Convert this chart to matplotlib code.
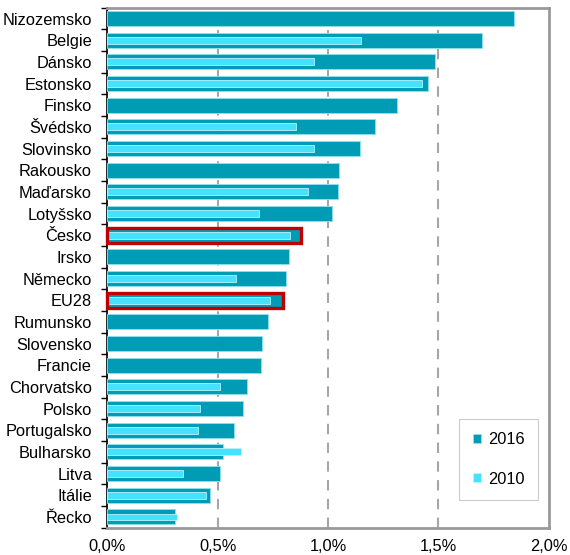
import numpy as np
import matplotlib
matplotlib.use("Agg")
import matplotlib.pyplot as plt
from matplotlib.patches import Rectangle
from matplotlib.ticker import FuncFormatter

plt.rcParams['font.family'] = ['Liberation Sans', 'DejaVu Sans']

# data (% of GDP); None = no 2010 value
zeme = ["Nizozemsko", "Belgie", "Dánsko", "Estonsko", "Finsko", "Švédsko",
        "Slovinsko", "Rakousko", "Maďarsko", "Lotyšsko", "Česko", "Irsko",
        "Německo", "EU28", "Rumunsko", "Slovensko", "Francie", "Chorvatsko",
        "Polsko", "Portugalsko", "Bulharsko", "Litva", "Itálie", "Řecko"]
v2016 = [1.84, 1.695, 1.484, 1.451, 1.312, 1.213, 1.143, 1.050, 1.044, 1.018,
         0.878, 0.822, 0.810, 0.795, 0.727, 0.703, 0.697, 0.632, 0.614, 0.576,
         0.523, 0.511, 0.465, 0.306]
v2010 = [None, 1.151, 0.936, 1.425, None, 0.854, 0.937, None, 0.910, 0.687,
         0.829, None, 0.585, 0.735, None, None, None, 0.511, 0.421, 0.410,
         0.606, 0.344, 0.449, 0.318]
zvyraznit = ["Česko", "EU28"]

c2016 = "#009BB4"
c2010 = "#45E2FF"

fig = plt.figure(figsize=(5.7, 5.55), dpi=100)
ax = fig.add_axes([0.188, 0.049, 0.775, 0.937])

y = np.arange(len(zeme))
h16 = 0.69
h10 = 0.32
ax.barh(y, v2016, height=h16, color=c2016, edgecolor="#8FE3EE", linewidth=0.6,
        label="2016", zorder=3)
y10 = [yy for yy, v in zip(y, v2010) if v is not None]
x10 = [v for v in v2010 if v is not None]
ax.barh(y10, x10, height=h10, color=c2010, edgecolor="#B8F3FF", linewidth=0.6,
        label="2010", zorder=4)

# red frames around Česko and EU28
for name in zvyraznit:
    i = zeme.index(name)
    ax.add_patch(Rectangle((0, i - h16 / 2), v2016[i], h16, fill=False,
                           edgecolor="#C00000", linewidth=2.4, zorder=5,
                           clip_on=False))

ax.set_xlim(0, 2.0)
ax.set_ylim(len(zeme) - 0.5, -0.5)
ax.set_xticks([0, 0.5, 1.0, 1.5, 2.0])
ax.xaxis.set_major_formatter(FuncFormatter(lambda v, p: f"{v:.1f}%".replace(".", ",")))
ax.tick_params(axis="x", length=0, pad=8, labelsize=11.8)

ax.set_yticks(y)
ax.set_yticklabels(zeme, fontsize=11.8)
ax.set_yticks(np.arange(len(zeme) + 1) - 0.5, minor=True)
ax.tick_params(axis="y", which="major", length=0, pad=11)
ax.tick_params(axis="y", which="minor", length=4, width=1, color="black")

for gx in [0.5, 1.0, 1.5]:
    ax.axvline(gx, color="#A6A6A6", linewidth=1.5, dashes=(5, 4), zorder=1)

for s in ["top", "right", "bottom"]:
    ax.spines[s].set_color("#999999")
    ax.spines[s].set_linewidth(2)
ax.spines["left"].set_color("black")
ax.spines["left"].set_linewidth(1.2)

leg = ax.legend(loc="lower right", bbox_to_anchor=(0.975, 0.054), fontsize=11.8,
                frameon=True, fancybox=False, edgecolor="#BFBFBF",
                handlelength=0.5, handleheight=0.5, labelspacing=1.5,
                borderpad=0.8, handletextpad=0.45, borderaxespad=0)
leg.get_frame().set_linewidth(0.8)

fig.savefig("out.png", dpi=100)
